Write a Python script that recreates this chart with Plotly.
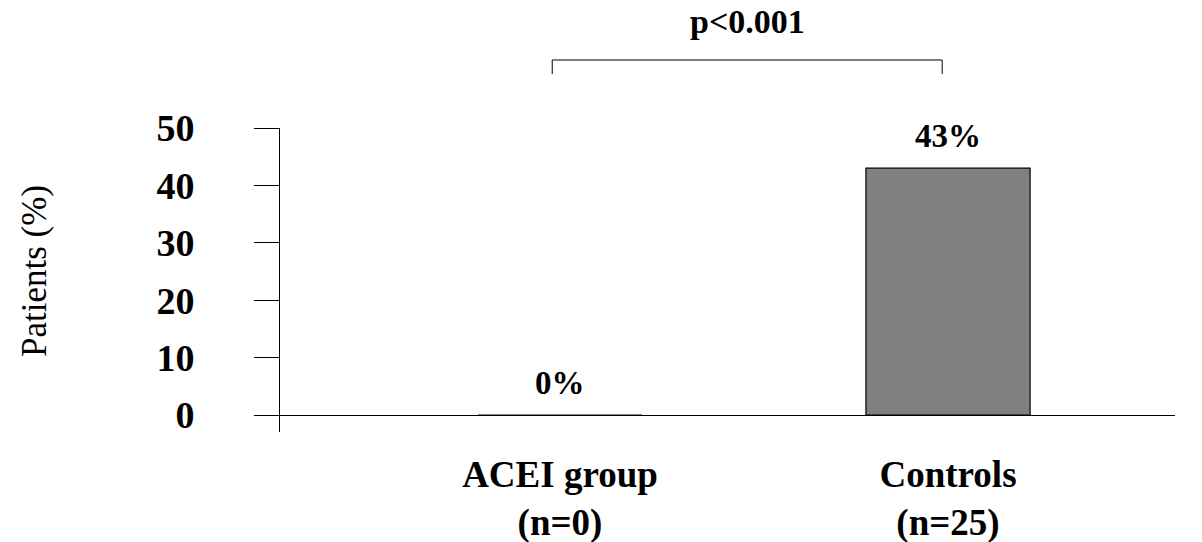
import plotly.graph_objects as go

# Data
groups = ["ACEI group", "Controls"]
group_n = ["(n=0)", "(n=25)"]
patients_pct = [0, 43]
p_label = "p<0.001"
y_ticks = [0, 10, 20, 30, 40, 50]

SERIF = "Liberation Serif"
x_range = [-0.7216, 1.585]
y_range = [-2.96, 50]

cat_labels = [f"{g}<br>{n}" for g, n in zip(groups, group_n)]


def bold_font(size):
    return dict(family=SERIF, size=size, color="black", weight="bold")


fig = go.Figure()
fig.add_trace(go.Bar(
    x=list(range(len(groups))),
    y=patients_pct,
    width=0.423,
    marker=dict(color="#808080", line=dict(color="black", width=1.2)),
    showlegend=False,
))

# value labels above each bar
for i, v in enumerate(patients_pct):
    fig.add_annotation(
        x=i, y=v, text=f"{v}%", showarrow=False, yanchor="bottom",
        yshift=12, font=bold_font(33),
    )

# significance bracket between the two groups
def to_paper_x(v):
    return (v - x_range[0]) / (x_range[1] - x_range[0])

bx0 = to_paper_x(-0.02)
bx1 = to_paper_x(0.985)
by_top, by_bot = 1.2237, 1.1776
fig.add_shape(type="path", xref="paper", yref="paper",
              path=f"M {bx0} {by_bot} L {bx0} {by_top} L {bx1} {by_top} L {bx1} {by_bot}",
              line=dict(color="black", width=1))
fig.add_annotation(x=(bx0 + bx1) / 2, y=1.349, xref="paper", yref="paper",
                   xanchor="center", yanchor="middle",
                   text=p_label, showarrow=False, font=bold_font(34))

# rotated axis title
fig.add_annotation(x=-0.2749, y=0.5296, xref="paper", yref="paper",
                   xanchor="center", yanchor="middle",
                   text="Patients (%)", textangle=-90, showarrow=False,
                   font=dict(family=SERIF, size=35, color="black"))

fig.update_layout(
    width=1202, height=542,
    margin=dict(l=280, r=27, t=128, b=110, autoexpand=False),
    plot_bgcolor="white", paper_bgcolor="white",
    xaxis=dict(
        range=x_range, tickmode="array",
        tickvals=list(range(len(groups))), ticktext=cat_labels,
        showline=False, showgrid=False, zeroline=False, ticks="",
        tickfont=bold_font(37), automargin=False,
        ticklabelstandoff=17,
    ),
    yaxis=dict(
        range=y_range, tickmode="array", tickvals=y_ticks,
        showline=True, linecolor="black", linewidth=1,
        ticks="outside", ticklen=25, tickcolor="black", tickwidth=1,
        showgrid=False, zeroline=True, zerolinecolor="black", zerolinewidth=1,
        tickfont=bold_font(38), automargin=False,
        ticklabelstandoff=52,
    ),
)

fig.write_html("out.html")
